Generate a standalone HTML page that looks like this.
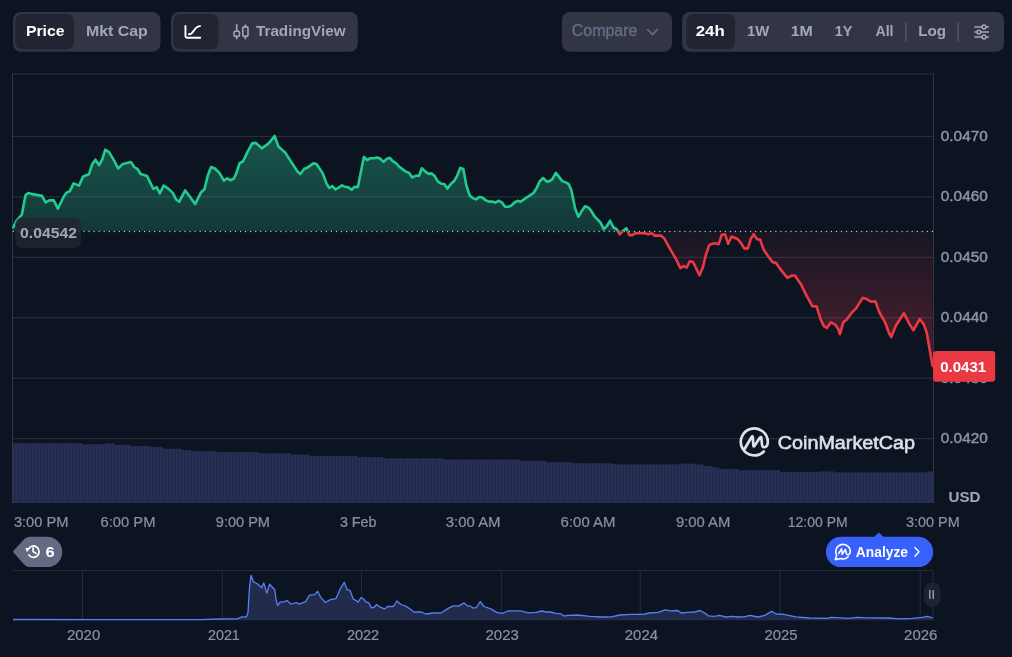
<!DOCTYPE html>
<html><head><meta charset="utf-8"><title>Chart</title>
<style>
html,body{margin:0;padding:0;}
body{width:1012px;height:657px;background:#0d1421;overflow:hidden;position:relative;font-family:"Liberation Sans",sans-serif;}
svg{position:absolute;left:0;top:0;font-family:"Liberation Sans",sans-serif;}
text{white-space:pre;}
</style></head><body>
<svg width="1012" height="657" viewBox="0 0 1012 657">
  <defs>
    <linearGradient id="gg" x1="0" y1="136" x2="0" y2="231" gradientUnits="userSpaceOnUse">
      <stop offset="0" stop-color="#2ed3a0" stop-opacity="0.34"/>
      <stop offset="1" stop-color="#2ed3a0" stop-opacity="0.19"/>
    </linearGradient>
    <linearGradient id="rg" x1="0" y1="231" x2="0" y2="367" gradientUnits="userSpaceOnUse">
      <stop offset="0" stop-color="#ea3a4e" stop-opacity="0.045"/>
      <stop offset="1" stop-color="#ea3a4e" stop-opacity="0.31"/>
    </linearGradient>
    <clipPath id="above"><rect x="0" y="0" width="1012" height="231.3"/></clipPath>
    <clipPath id="below"><rect x="0" y="231.3" width="1012" height="400"/></clipPath>
    <clipPath id="plot"><rect x="12" y="74" width="921.5" height="430"/></clipPath>
  </defs>

  <!-- toolbar groups -->
  <rect x="13" y="12" width="147.5" height="39.8" rx="8" fill="#323546"/>
  <rect x="15.3" y="14" width="58.7" height="35.2" rx="6.5" fill="#222531"/>
  <rect x="171" y="12" width="186.8" height="39.8" rx="8" fill="#323546"/>
  <rect x="173.3" y="14" width="45.1" height="35.2" rx="6.5" fill="#222531"/>
  <rect x="562" y="12" width="110" height="39.8" rx="8" fill="#323546"/>
  <rect x="682.1" y="12" width="321.9" height="39.8" rx="8" fill="#323546"/>
  <rect x="686.3" y="14" width="48.8" height="35" rx="6.5" fill="#222531"/>

  <!-- toolbar icons -->
  <g fill="none" stroke="#ffffff" stroke-width="1.9" stroke-linecap="round" stroke-linejoin="round">
    <path d="M185.45,26V36.2Q185.45,37.7 186.95,37.7H200.2"/>
    <path d="M188.9,34.2C194.6,34.2 193.4,26.1 200.1,26.1"/>
  </g>
  <g fill="none" stroke="#a1a7bb" stroke-width="1.6" stroke-linecap="round" stroke-linejoin="round">
    <rect x="234" y="31.2" width="5.5" height="5.2" rx="1.4"/>
    <path d="M236.75,24.8V31.2M236.75,36.4V38.8"/>
    <rect x="242.8" y="26.9" width="5.2" height="9.5" rx="1.4"/>
    <path d="M245.4,25V26.9M245.4,36.4V38.8"/>
  </g>
  <path d="M647.7,29.6l4.8,5l4.8,-5" fill="none" stroke="#616b86" stroke-width="1.6" stroke-linecap="round" stroke-linejoin="round"/>
  <path d="M906,22.5v19M958,22.5v19" stroke="#5a6076" stroke-width="1.2"/>
  <g fill="none" stroke="#a1a7bb" stroke-width="1.5" stroke-linecap="round">
    <path d="M974.8,27h7M986.2,27h2.2M974.8,32.1h1.8M981,32.1h7.4M974.8,37h7M986.2,37h2.2"/>
    <circle cx="984" cy="27" r="1.9"/><circle cx="978.8" cy="32.1" r="1.9"/><circle cx="984" cy="37" r="1.9"/>
  </g>

  <!-- grid -->
  <path d="M12,74H934" stroke="#2a3040" stroke-width="1"/>
  <path d="M12,136.40H934M12,196.85H934M12,257.30H934M12,317.75H934M12,378.20H934M12,438.65H934" stroke="#2c3244" stroke-width="1"/>

  <!-- y labels -->
  <g><text x="940.80" y="141.00" font-size="14" font-weight="normal" fill="#8a92a8" textLength="47.00" lengthAdjust="spacingAndGlyphs" stroke="#8a92a8" stroke-width="0.45">0.0470</text><text x="940.80" y="201.45" font-size="14" font-weight="normal" fill="#8a92a8" textLength="47.00" lengthAdjust="spacingAndGlyphs" stroke="#8a92a8" stroke-width="0.45">0.0460</text><text x="940.80" y="261.90" font-size="14" font-weight="normal" fill="#8a92a8" textLength="47.00" lengthAdjust="spacingAndGlyphs" stroke="#8a92a8" stroke-width="0.45">0.0450</text><text x="940.80" y="322.35" font-size="14" font-weight="normal" fill="#8a92a8" textLength="47.00" lengthAdjust="spacingAndGlyphs" stroke="#8a92a8" stroke-width="0.45">0.0440</text><text x="940.80" y="382.80" font-size="14" font-weight="normal" fill="#8a92a8" textLength="47.00" lengthAdjust="spacingAndGlyphs" stroke="#8a92a8" stroke-width="0.45">0.0430</text><text x="940.80" y="443.25" font-size="14" font-weight="normal" fill="#8a92a8" textLength="47.00" lengthAdjust="spacingAndGlyphs" stroke="#8a92a8" stroke-width="0.45">0.0420</text></g>

  <!-- volume -->
  <path d="M12.2,502.8 L12.2,443.2 L15.4,443.2 L15.4,443.2 L18.6,443.2 L18.6,443.2 L21.8,443.2 L21.8,443.2 L25.0,443.2 L25.0,443.2 L28.2,443.2 L28.2,443.2 L31.4,443.2 L31.4,443.2 L34.6,443.2 L34.6,443.2 L37.8,443.2 L37.8,443.2 L41.0,443.2 L41.0,443.2 L44.2,443.2 L44.2,443.2 L47.4,443.2 L47.4,443.2 L50.6,443.2 L50.6,443.2 L53.8,443.2 L53.8,443.2 L57.0,443.2 L57.0,443.2 L60.2,443.2 L60.2,443.2 L63.4,443.2 L63.4,443.2 L66.6,443.2 L66.6,443.2 L69.8,443.2 L69.8,443.2 L73.0,443.2 L73.0,443.2 L76.2,443.2 L76.2,443.2 L79.4,443.2 L79.4,443.2 L82.6,443.2 L82.6,444.4 L85.8,444.4 L85.8,444.4 L89.0,444.4 L89.0,444.4 L92.2,444.4 L92.2,444.4 L95.4,444.4 L95.4,444.4 L98.6,444.4 L98.6,444.4 L101.8,444.4 L101.8,444.4 L105.0,444.4 L105.0,443.6 L108.2,443.6 L108.2,443.6 L111.4,443.6 L111.4,443.6 L114.6,443.6 L114.6,444.9 L117.8,444.9 L117.8,444.9 L121.0,444.9 L121.0,444.9 L124.2,444.9 L124.2,444.9 L127.4,444.9 L127.4,444.9 L130.6,444.9 L130.6,446.1 L133.8,446.1 L133.8,446.1 L137.0,446.1 L137.0,446.1 L140.2,446.1 L140.2,446.1 L143.4,446.1 L143.4,446.1 L146.6,446.1 L146.6,446.1 L149.8,446.1 L149.8,446.9 L153.0,446.9 L153.0,446.9 L156.2,446.9 L156.2,446.9 L159.4,446.9 L159.4,446.9 L162.6,446.9 L162.6,448.8 L165.8,448.8 L165.8,448.8 L169.0,448.8 L169.0,448.8 L172.2,448.8 L172.2,448.8 L175.4,448.8 L175.4,448.8 L178.6,448.8 L178.6,448.8 L181.8,448.8 L181.8,450.1 L185.0,450.1 L185.0,450.1 L188.2,450.1 L188.2,450.1 L191.4,450.1 L191.4,451.3 L194.6,451.3 L194.6,451.3 L197.8,451.3 L197.8,451.3 L201.0,451.3 L201.0,451.3 L204.2,451.3 L204.2,451.3 L207.4,451.3 L207.4,451.3 L210.6,451.3 L210.6,451.3 L213.8,451.3 L213.8,451.3 L217.0,451.3 L217.0,452.3 L220.2,452.3 L220.2,452.3 L223.4,452.3 L223.4,452.3 L226.6,452.3 L226.6,452.3 L229.8,452.3 L229.8,452.3 L233.0,452.3 L233.0,452.3 L236.2,452.3 L236.2,452.3 L239.4,452.3 L239.4,452.3 L242.6,452.3 L242.6,452.3 L245.8,452.3 L245.8,452.3 L249.0,452.3 L249.0,452.3 L252.2,452.3 L252.2,452.3 L255.4,452.3 L255.4,452.3 L258.6,452.3 L258.6,453.5 L261.8,453.5 L261.8,453.5 L265.0,453.5 L265.0,453.5 L268.2,453.5 L268.2,453.5 L271.4,453.5 L271.4,453.5 L274.6,453.5 L274.6,453.5 L277.8,453.5 L277.8,453.5 L281.0,453.5 L281.0,453.5 L284.2,453.5 L284.2,453.5 L287.4,453.5 L287.4,453.5 L290.6,453.5 L290.6,454.8 L293.8,454.8 L293.8,454.8 L297.0,454.8 L297.0,454.8 L300.2,454.8 L300.2,454.8 L303.4,454.8 L303.4,454.8 L306.6,454.8 L306.6,454.8 L309.8,454.8 L309.8,456.0 L313.0,456.0 L313.0,456.0 L316.2,456.0 L316.2,456.0 L319.4,456.0 L319.4,456.0 L322.6,456.0 L322.6,456.0 L325.8,456.0 L325.8,456.0 L329.0,456.0 L329.0,456.0 L332.2,456.0 L332.2,456.0 L335.4,456.0 L335.4,456.0 L338.6,456.0 L338.6,456.0 L341.8,456.0 L341.8,456.0 L345.0,456.0 L345.0,456.0 L348.2,456.0 L348.2,456.0 L351.4,456.0 L351.4,456.0 L354.6,456.0 L354.6,456.0 L357.8,456.0 L357.8,457.2 L361.0,457.2 L361.0,457.2 L364.2,457.2 L364.2,457.2 L367.4,457.2 L367.4,457.2 L370.6,457.2 L370.6,457.2 L373.8,457.2 L373.8,457.2 L377.0,457.2 L377.0,457.2 L380.2,457.2 L380.2,457.2 L383.4,457.2 L383.4,458.5 L386.6,458.5 L386.6,458.5 L389.8,458.5 L389.8,458.5 L393.0,458.5 L393.0,458.5 L396.2,458.5 L396.2,458.5 L399.4,458.5 L399.4,458.5 L402.6,458.5 L402.6,458.5 L405.8,458.5 L405.8,458.5 L409.0,458.5 L409.0,458.5 L412.2,458.5 L412.2,458.5 L415.4,458.5 L415.4,458.5 L418.6,458.5 L418.6,458.5 L421.8,458.5 L421.8,458.5 L425.0,458.5 L425.0,458.5 L428.2,458.5 L428.2,458.5 L431.4,458.5 L431.4,458.5 L434.6,458.5 L434.6,458.5 L437.8,458.5 L437.8,458.5 L441.0,458.5 L441.0,458.5 L444.2,458.5 L444.2,459.7 L447.4,459.7 L447.4,459.7 L450.6,459.7 L450.6,459.7 L453.8,459.7 L453.8,459.7 L457.0,459.7 L457.0,459.7 L460.2,459.7 L460.2,459.7 L463.4,459.7 L463.4,459.7 L466.6,459.7 L466.6,459.7 L469.8,459.7 L469.8,459.7 L473.0,459.7 L473.0,459.7 L476.2,459.7 L476.2,459.7 L479.4,459.7 L479.4,459.7 L482.6,459.7 L482.6,459.7 L485.8,459.7 L485.8,459.7 L489.0,459.7 L489.0,459.7 L492.2,459.7 L492.2,459.7 L495.4,459.7 L495.4,459.7 L498.6,459.7 L498.6,459.7 L501.8,459.7 L501.8,459.7 L505.0,459.7 L505.0,459.7 L508.2,459.7 L508.2,459.7 L511.4,459.7 L511.4,459.7 L514.6,459.7 L514.6,459.7 L517.8,459.7 L517.8,459.7 L521.0,459.7 L521.0,460.9 L524.2,460.9 L524.2,460.9 L527.4,460.9 L527.4,460.9 L530.6,460.9 L530.6,460.9 L533.8,460.9 L533.8,460.9 L537.0,460.9 L537.0,460.9 L540.2,460.9 L540.2,460.9 L543.4,460.9 L543.4,460.9 L546.6,460.9 L546.6,462.2 L549.8,462.2 L549.8,462.2 L553.0,462.2 L553.0,462.2 L556.2,462.2 L556.2,462.2 L559.4,462.2 L559.4,462.2 L562.6,462.2 L562.6,462.2 L565.8,462.2 L565.8,462.2 L569.0,462.2 L569.0,462.2 L572.2,462.2 L572.2,463.4 L575.4,463.4 L575.4,463.4 L578.6,463.4 L578.6,463.4 L581.8,463.4 L581.8,463.4 L585.0,463.4 L585.0,463.4 L588.2,463.4 L588.2,463.4 L591.4,463.4 L591.4,463.4 L594.6,463.4 L594.6,463.4 L597.8,463.4 L597.8,463.4 L601.0,463.4 L601.0,463.4 L604.2,463.4 L604.2,463.4 L607.4,463.4 L607.4,463.4 L610.6,463.4 L610.6,463.4 L613.8,463.4 L613.8,464.6 L617.0,464.6 L617.0,464.6 L620.2,464.6 L620.2,464.6 L623.4,464.6 L623.4,464.6 L626.6,464.6 L626.6,464.6 L629.8,464.6 L629.8,464.6 L633.0,464.6 L633.0,464.6 L636.2,464.6 L636.2,464.6 L639.4,464.6 L639.4,464.6 L642.6,464.6 L642.6,464.6 L645.8,464.6 L645.8,464.6 L649.0,464.6 L649.0,464.6 L652.2,464.6 L652.2,464.6 L655.4,464.6 L655.4,464.6 L658.6,464.6 L658.6,464.6 L661.8,464.6 L661.8,464.6 L665.0,464.6 L665.0,464.6 L668.2,464.6 L668.2,464.6 L671.4,464.6 L671.4,464.6 L674.6,464.6 L674.6,464.6 L677.8,464.6 L677.8,463.7 L681.0,463.7 L681.0,463.7 L684.2,463.7 L684.2,463.7 L687.4,463.7 L687.4,463.7 L690.6,463.7 L690.6,463.7 L693.8,463.7 L693.8,464.6 L697.0,464.6 L697.0,464.6 L700.2,464.6 L700.2,464.6 L703.4,464.6 L703.4,466.1 L706.6,466.1 L706.6,466.1 L709.8,466.1 L709.8,466.1 L713.0,466.1 L713.0,467.6 L716.2,467.6 L716.2,467.6 L719.4,467.6 L719.4,469.1 L722.6,469.1 L722.6,469.1 L725.8,469.1 L725.8,469.1 L729.0,469.1 L729.0,469.1 L732.2,469.1 L732.2,469.1 L735.4,469.1 L735.4,469.1 L738.6,469.1 L738.6,470.3 L741.8,470.3 L741.8,470.3 L745.0,470.3 L745.0,470.3 L748.2,470.3 L748.2,470.3 L751.4,470.3 L751.4,470.3 L754.6,470.3 L754.6,470.3 L757.8,470.3 L757.8,470.3 L761.0,470.3 L761.0,470.3 L764.2,470.3 L764.2,470.3 L767.4,470.3 L767.4,470.3 L770.6,470.3 L770.6,470.3 L773.8,470.3 L773.8,470.3 L777.0,470.3 L777.0,470.3 L780.2,470.3 L780.2,472.1 L783.4,472.1 L783.4,472.1 L786.6,472.1 L786.6,472.1 L789.8,472.1 L789.8,472.1 L793.0,472.1 L793.0,472.1 L796.2,472.1 L796.2,472.1 L799.4,472.1 L799.4,472.1 L802.6,472.1 L802.6,472.1 L805.8,472.1 L805.8,472.1 L809.0,472.1 L809.0,472.1 L812.2,472.1 L812.2,472.1 L815.4,472.1 L815.4,472.1 L818.6,472.1 L818.6,471.6 L821.8,471.6 L821.8,471.6 L825.0,471.6 L825.0,471.6 L828.2,471.6 L828.2,471.6 L831.4,471.6 L831.4,471.6 L834.6,471.6 L834.6,472.5 L837.8,472.5 L837.8,472.5 L841.0,472.5 L841.0,472.5 L844.2,472.5 L844.2,472.5 L847.4,472.5 L847.4,472.5 L850.6,472.5 L850.6,472.5 L853.8,472.5 L853.8,472.5 L857.0,472.5 L857.0,472.5 L860.2,472.5 L860.2,472.5 L863.4,472.5 L863.4,472.5 L866.6,472.5 L866.6,472.5 L869.8,472.5 L869.8,472.5 L873.0,472.5 L873.0,472.5 L876.2,472.5 L876.2,472.5 L879.4,472.5 L879.4,472.5 L882.6,472.5 L882.6,472.5 L885.8,472.5 L885.8,472.5 L889.0,472.5 L889.0,472.5 L892.2,472.5 L892.2,472.5 L895.4,472.5 L895.4,472.5 L898.6,472.5 L898.6,472.5 L901.8,472.5 L901.8,472.5 L905.0,472.5 L905.0,472.5 L908.2,472.5 L908.2,472.5 L911.4,472.5 L911.4,472.5 L914.6,472.5 L914.6,472.5 L917.8,472.5 L917.8,472.5 L921.0,472.5 L921.0,472.5 L924.2,472.5 L924.2,472.5 L927.4,472.5 L927.4,471.6 L930.6,471.6 L930.6,471.6 L933.8,471.6 L933.8,502.8Z" fill="#1f2746"/>
  <g fill="#272f54"><rect x="12.20" y="443.2" width="2.60" height="59.6"/><rect x="15.40" y="443.2" width="2.60" height="59.6"/><rect x="18.60" y="443.2" width="2.60" height="59.6"/><rect x="21.80" y="443.2" width="2.60" height="59.6"/><rect x="25.00" y="443.2" width="2.60" height="59.6"/><rect x="28.20" y="443.2" width="2.60" height="59.6"/><rect x="31.40" y="443.2" width="2.60" height="59.6"/><rect x="34.60" y="443.2" width="2.60" height="59.6"/><rect x="37.80" y="443.2" width="2.60" height="59.6"/><rect x="41.00" y="443.2" width="2.60" height="59.6"/><rect x="44.20" y="443.2" width="2.60" height="59.6"/><rect x="47.40" y="443.2" width="2.60" height="59.6"/><rect x="50.60" y="443.2" width="2.60" height="59.6"/><rect x="53.80" y="443.2" width="2.60" height="59.6"/><rect x="57.00" y="443.2" width="2.60" height="59.6"/><rect x="60.20" y="443.2" width="2.60" height="59.6"/><rect x="63.40" y="443.2" width="2.60" height="59.6"/><rect x="66.60" y="443.2" width="2.60" height="59.6"/><rect x="69.80" y="443.2" width="2.60" height="59.6"/><rect x="73.00" y="443.2" width="2.60" height="59.6"/><rect x="76.20" y="443.2" width="2.60" height="59.6"/><rect x="79.40" y="443.2" width="2.60" height="59.6"/><rect x="82.60" y="444.4" width="2.60" height="58.4"/><rect x="85.80" y="444.4" width="2.60" height="58.4"/><rect x="89.00" y="444.4" width="2.60" height="58.4"/><rect x="92.20" y="444.4" width="2.60" height="58.4"/><rect x="95.40" y="444.4" width="2.60" height="58.4"/><rect x="98.60" y="444.4" width="2.60" height="58.4"/><rect x="101.80" y="444.4" width="2.60" height="58.4"/><rect x="105.00" y="443.6" width="2.60" height="59.2"/><rect x="108.20" y="443.6" width="2.60" height="59.2"/><rect x="111.40" y="443.6" width="2.60" height="59.2"/><rect x="114.60" y="444.9" width="2.60" height="57.9"/><rect x="117.80" y="444.9" width="2.60" height="57.9"/><rect x="121.00" y="444.9" width="2.60" height="57.9"/><rect x="124.20" y="444.9" width="2.60" height="57.9"/><rect x="127.40" y="444.9" width="2.60" height="57.9"/><rect x="130.60" y="446.1" width="2.60" height="56.7"/><rect x="133.80" y="446.1" width="2.60" height="56.7"/><rect x="137.00" y="446.1" width="2.60" height="56.7"/><rect x="140.20" y="446.1" width="2.60" height="56.7"/><rect x="143.40" y="446.1" width="2.60" height="56.7"/><rect x="146.60" y="446.1" width="2.60" height="56.7"/><rect x="149.80" y="446.9" width="2.60" height="55.9"/><rect x="153.00" y="446.9" width="2.60" height="55.9"/><rect x="156.20" y="446.9" width="2.60" height="55.9"/><rect x="159.40" y="446.9" width="2.60" height="55.9"/><rect x="162.60" y="448.8" width="2.60" height="54.0"/><rect x="165.80" y="448.8" width="2.60" height="54.0"/><rect x="169.00" y="448.8" width="2.60" height="54.0"/><rect x="172.20" y="448.8" width="2.60" height="54.0"/><rect x="175.40" y="448.8" width="2.60" height="54.0"/><rect x="178.60" y="448.8" width="2.60" height="54.0"/><rect x="181.80" y="450.1" width="2.60" height="52.7"/><rect x="185.00" y="450.1" width="2.60" height="52.7"/><rect x="188.20" y="450.1" width="2.60" height="52.7"/><rect x="191.40" y="451.3" width="2.60" height="51.5"/><rect x="194.60" y="451.3" width="2.60" height="51.5"/><rect x="197.80" y="451.3" width="2.60" height="51.5"/><rect x="201.00" y="451.3" width="2.60" height="51.5"/><rect x="204.20" y="451.3" width="2.60" height="51.5"/><rect x="207.40" y="451.3" width="2.60" height="51.5"/><rect x="210.60" y="451.3" width="2.60" height="51.5"/><rect x="213.80" y="451.3" width="2.60" height="51.5"/><rect x="217.00" y="452.3" width="2.60" height="50.5"/><rect x="220.20" y="452.3" width="2.60" height="50.5"/><rect x="223.40" y="452.3" width="2.60" height="50.5"/><rect x="226.60" y="452.3" width="2.60" height="50.5"/><rect x="229.80" y="452.3" width="2.60" height="50.5"/><rect x="233.00" y="452.3" width="2.60" height="50.5"/><rect x="236.20" y="452.3" width="2.60" height="50.5"/><rect x="239.40" y="452.3" width="2.60" height="50.5"/><rect x="242.60" y="452.3" width="2.60" height="50.5"/><rect x="245.80" y="452.3" width="2.60" height="50.5"/><rect x="249.00" y="452.3" width="2.60" height="50.5"/><rect x="252.20" y="452.3" width="2.60" height="50.5"/><rect x="255.40" y="452.3" width="2.60" height="50.5"/><rect x="258.60" y="453.5" width="2.60" height="49.3"/><rect x="261.80" y="453.5" width="2.60" height="49.3"/><rect x="265.00" y="453.5" width="2.60" height="49.3"/><rect x="268.20" y="453.5" width="2.60" height="49.3"/><rect x="271.40" y="453.5" width="2.60" height="49.3"/><rect x="274.60" y="453.5" width="2.60" height="49.3"/><rect x="277.80" y="453.5" width="2.60" height="49.3"/><rect x="281.00" y="453.5" width="2.60" height="49.3"/><rect x="284.20" y="453.5" width="2.60" height="49.3"/><rect x="287.40" y="453.5" width="2.60" height="49.3"/><rect x="290.60" y="454.8" width="2.60" height="48.0"/><rect x="293.80" y="454.8" width="2.60" height="48.0"/><rect x="297.00" y="454.8" width="2.60" height="48.0"/><rect x="300.20" y="454.8" width="2.60" height="48.0"/><rect x="303.40" y="454.8" width="2.60" height="48.0"/><rect x="306.60" y="454.8" width="2.60" height="48.0"/><rect x="309.80" y="456.0" width="2.60" height="46.8"/><rect x="313.00" y="456.0" width="2.60" height="46.8"/><rect x="316.20" y="456.0" width="2.60" height="46.8"/><rect x="319.40" y="456.0" width="2.60" height="46.8"/><rect x="322.60" y="456.0" width="2.60" height="46.8"/><rect x="325.80" y="456.0" width="2.60" height="46.8"/><rect x="329.00" y="456.0" width="2.60" height="46.8"/><rect x="332.20" y="456.0" width="2.60" height="46.8"/><rect x="335.40" y="456.0" width="2.60" height="46.8"/><rect x="338.60" y="456.0" width="2.60" height="46.8"/><rect x="341.80" y="456.0" width="2.60" height="46.8"/><rect x="345.00" y="456.0" width="2.60" height="46.8"/><rect x="348.20" y="456.0" width="2.60" height="46.8"/><rect x="351.40" y="456.0" width="2.60" height="46.8"/><rect x="354.60" y="456.0" width="2.60" height="46.8"/><rect x="357.80" y="457.2" width="2.60" height="45.6"/><rect x="361.00" y="457.2" width="2.60" height="45.6"/><rect x="364.20" y="457.2" width="2.60" height="45.6"/><rect x="367.40" y="457.2" width="2.60" height="45.6"/><rect x="370.60" y="457.2" width="2.60" height="45.6"/><rect x="373.80" y="457.2" width="2.60" height="45.6"/><rect x="377.00" y="457.2" width="2.60" height="45.6"/><rect x="380.20" y="457.2" width="2.60" height="45.6"/><rect x="383.40" y="458.5" width="2.60" height="44.3"/><rect x="386.60" y="458.5" width="2.60" height="44.3"/><rect x="389.80" y="458.5" width="2.60" height="44.3"/><rect x="393.00" y="458.5" width="2.60" height="44.3"/><rect x="396.20" y="458.5" width="2.60" height="44.3"/><rect x="399.40" y="458.5" width="2.60" height="44.3"/><rect x="402.60" y="458.5" width="2.60" height="44.3"/><rect x="405.80" y="458.5" width="2.60" height="44.3"/><rect x="409.00" y="458.5" width="2.60" height="44.3"/><rect x="412.20" y="458.5" width="2.60" height="44.3"/><rect x="415.40" y="458.5" width="2.60" height="44.3"/><rect x="418.60" y="458.5" width="2.60" height="44.3"/><rect x="421.80" y="458.5" width="2.60" height="44.3"/><rect x="425.00" y="458.5" width="2.60" height="44.3"/><rect x="428.20" y="458.5" width="2.60" height="44.3"/><rect x="431.40" y="458.5" width="2.60" height="44.3"/><rect x="434.60" y="458.5" width="2.60" height="44.3"/><rect x="437.80" y="458.5" width="2.60" height="44.3"/><rect x="441.00" y="458.5" width="2.60" height="44.3"/><rect x="444.20" y="459.7" width="2.60" height="43.1"/><rect x="447.40" y="459.7" width="2.60" height="43.1"/><rect x="450.60" y="459.7" width="2.60" height="43.1"/><rect x="453.80" y="459.7" width="2.60" height="43.1"/><rect x="457.00" y="459.7" width="2.60" height="43.1"/><rect x="460.20" y="459.7" width="2.60" height="43.1"/><rect x="463.40" y="459.7" width="2.60" height="43.1"/><rect x="466.60" y="459.7" width="2.60" height="43.1"/><rect x="469.80" y="459.7" width="2.60" height="43.1"/><rect x="473.00" y="459.7" width="2.60" height="43.1"/><rect x="476.20" y="459.7" width="2.60" height="43.1"/><rect x="479.40" y="459.7" width="2.60" height="43.1"/><rect x="482.60" y="459.7" width="2.60" height="43.1"/><rect x="485.80" y="459.7" width="2.60" height="43.1"/><rect x="489.00" y="459.7" width="2.60" height="43.1"/><rect x="492.20" y="459.7" width="2.60" height="43.1"/><rect x="495.40" y="459.7" width="2.60" height="43.1"/><rect x="498.60" y="459.7" width="2.60" height="43.1"/><rect x="501.80" y="459.7" width="2.60" height="43.1"/><rect x="505.00" y="459.7" width="2.60" height="43.1"/><rect x="508.20" y="459.7" width="2.60" height="43.1"/><rect x="511.40" y="459.7" width="2.60" height="43.1"/><rect x="514.60" y="459.7" width="2.60" height="43.1"/><rect x="517.80" y="459.7" width="2.60" height="43.1"/><rect x="521.00" y="460.9" width="2.60" height="41.9"/><rect x="524.20" y="460.9" width="2.60" height="41.9"/><rect x="527.40" y="460.9" width="2.60" height="41.9"/><rect x="530.60" y="460.9" width="2.60" height="41.9"/><rect x="533.80" y="460.9" width="2.60" height="41.9"/><rect x="537.00" y="460.9" width="2.60" height="41.9"/><rect x="540.20" y="460.9" width="2.60" height="41.9"/><rect x="543.40" y="460.9" width="2.60" height="41.9"/><rect x="546.60" y="462.2" width="2.60" height="40.6"/><rect x="549.80" y="462.2" width="2.60" height="40.6"/><rect x="553.00" y="462.2" width="2.60" height="40.6"/><rect x="556.20" y="462.2" width="2.60" height="40.6"/><rect x="559.40" y="462.2" width="2.60" height="40.6"/><rect x="562.60" y="462.2" width="2.60" height="40.6"/><rect x="565.80" y="462.2" width="2.60" height="40.6"/><rect x="569.00" y="462.2" width="2.60" height="40.6"/><rect x="572.20" y="463.4" width="2.60" height="39.4"/><rect x="575.40" y="463.4" width="2.60" height="39.4"/><rect x="578.60" y="463.4" width="2.60" height="39.4"/><rect x="581.80" y="463.4" width="2.60" height="39.4"/><rect x="585.00" y="463.4" width="2.60" height="39.4"/><rect x="588.20" y="463.4" width="2.60" height="39.4"/><rect x="591.40" y="463.4" width="2.60" height="39.4"/><rect x="594.60" y="463.4" width="2.60" height="39.4"/><rect x="597.80" y="463.4" width="2.60" height="39.4"/><rect x="601.00" y="463.4" width="2.60" height="39.4"/><rect x="604.20" y="463.4" width="2.60" height="39.4"/><rect x="607.40" y="463.4" width="2.60" height="39.4"/><rect x="610.60" y="463.4" width="2.60" height="39.4"/><rect x="613.80" y="464.6" width="2.60" height="38.2"/><rect x="617.00" y="464.6" width="2.60" height="38.2"/><rect x="620.20" y="464.6" width="2.60" height="38.2"/><rect x="623.40" y="464.6" width="2.60" height="38.2"/><rect x="626.60" y="464.6" width="2.60" height="38.2"/><rect x="629.80" y="464.6" width="2.60" height="38.2"/><rect x="633.00" y="464.6" width="2.60" height="38.2"/><rect x="636.20" y="464.6" width="2.60" height="38.2"/><rect x="639.40" y="464.6" width="2.60" height="38.2"/><rect x="642.60" y="464.6" width="2.60" height="38.2"/><rect x="645.80" y="464.6" width="2.60" height="38.2"/><rect x="649.00" y="464.6" width="2.60" height="38.2"/><rect x="652.20" y="464.6" width="2.60" height="38.2"/><rect x="655.40" y="464.6" width="2.60" height="38.2"/><rect x="658.60" y="464.6" width="2.60" height="38.2"/><rect x="661.80" y="464.6" width="2.60" height="38.2"/><rect x="665.00" y="464.6" width="2.60" height="38.2"/><rect x="668.20" y="464.6" width="2.60" height="38.2"/><rect x="671.40" y="464.6" width="2.60" height="38.2"/><rect x="674.60" y="464.6" width="2.60" height="38.2"/><rect x="677.80" y="463.7" width="2.60" height="39.1"/><rect x="681.00" y="463.7" width="2.60" height="39.1"/><rect x="684.20" y="463.7" width="2.60" height="39.1"/><rect x="687.40" y="463.7" width="2.60" height="39.1"/><rect x="690.60" y="463.7" width="2.60" height="39.1"/><rect x="693.80" y="464.6" width="2.60" height="38.2"/><rect x="697.00" y="464.6" width="2.60" height="38.2"/><rect x="700.20" y="464.6" width="2.60" height="38.2"/><rect x="703.40" y="466.1" width="2.60" height="36.7"/><rect x="706.60" y="466.1" width="2.60" height="36.7"/><rect x="709.80" y="466.1" width="2.60" height="36.7"/><rect x="713.00" y="467.6" width="2.60" height="35.2"/><rect x="716.20" y="467.6" width="2.60" height="35.2"/><rect x="719.40" y="469.1" width="2.60" height="33.7"/><rect x="722.60" y="469.1" width="2.60" height="33.7"/><rect x="725.80" y="469.1" width="2.60" height="33.7"/><rect x="729.00" y="469.1" width="2.60" height="33.7"/><rect x="732.20" y="469.1" width="2.60" height="33.7"/><rect x="735.40" y="469.1" width="2.60" height="33.7"/><rect x="738.60" y="470.3" width="2.60" height="32.5"/><rect x="741.80" y="470.3" width="2.60" height="32.5"/><rect x="745.00" y="470.3" width="2.60" height="32.5"/><rect x="748.20" y="470.3" width="2.60" height="32.5"/><rect x="751.40" y="470.3" width="2.60" height="32.5"/><rect x="754.60" y="470.3" width="2.60" height="32.5"/><rect x="757.80" y="470.3" width="2.60" height="32.5"/><rect x="761.00" y="470.3" width="2.60" height="32.5"/><rect x="764.20" y="470.3" width="2.60" height="32.5"/><rect x="767.40" y="470.3" width="2.60" height="32.5"/><rect x="770.60" y="470.3" width="2.60" height="32.5"/><rect x="773.80" y="470.3" width="2.60" height="32.5"/><rect x="777.00" y="470.3" width="2.60" height="32.5"/><rect x="780.20" y="472.1" width="2.60" height="30.7"/><rect x="783.40" y="472.1" width="2.60" height="30.7"/><rect x="786.60" y="472.1" width="2.60" height="30.7"/><rect x="789.80" y="472.1" width="2.60" height="30.7"/><rect x="793.00" y="472.1" width="2.60" height="30.7"/><rect x="796.20" y="472.1" width="2.60" height="30.7"/><rect x="799.40" y="472.1" width="2.60" height="30.7"/><rect x="802.60" y="472.1" width="2.60" height="30.7"/><rect x="805.80" y="472.1" width="2.60" height="30.7"/><rect x="809.00" y="472.1" width="2.60" height="30.7"/><rect x="812.20" y="472.1" width="2.60" height="30.7"/><rect x="815.40" y="472.1" width="2.60" height="30.7"/><rect x="818.60" y="471.6" width="2.60" height="31.2"/><rect x="821.80" y="471.6" width="2.60" height="31.2"/><rect x="825.00" y="471.6" width="2.60" height="31.2"/><rect x="828.20" y="471.6" width="2.60" height="31.2"/><rect x="831.40" y="471.6" width="2.60" height="31.2"/><rect x="834.60" y="472.5" width="2.60" height="30.3"/><rect x="837.80" y="472.5" width="2.60" height="30.3"/><rect x="841.00" y="472.5" width="2.60" height="30.3"/><rect x="844.20" y="472.5" width="2.60" height="30.3"/><rect x="847.40" y="472.5" width="2.60" height="30.3"/><rect x="850.60" y="472.5" width="2.60" height="30.3"/><rect x="853.80" y="472.5" width="2.60" height="30.3"/><rect x="857.00" y="472.5" width="2.60" height="30.3"/><rect x="860.20" y="472.5" width="2.60" height="30.3"/><rect x="863.40" y="472.5" width="2.60" height="30.3"/><rect x="866.60" y="472.5" width="2.60" height="30.3"/><rect x="869.80" y="472.5" width="2.60" height="30.3"/><rect x="873.00" y="472.5" width="2.60" height="30.3"/><rect x="876.20" y="472.5" width="2.60" height="30.3"/><rect x="879.40" y="472.5" width="2.60" height="30.3"/><rect x="882.60" y="472.5" width="2.60" height="30.3"/><rect x="885.80" y="472.5" width="2.60" height="30.3"/><rect x="889.00" y="472.5" width="2.60" height="30.3"/><rect x="892.20" y="472.5" width="2.60" height="30.3"/><rect x="895.40" y="472.5" width="2.60" height="30.3"/><rect x="898.60" y="472.5" width="2.60" height="30.3"/><rect x="901.80" y="472.5" width="2.60" height="30.3"/><rect x="905.00" y="472.5" width="2.60" height="30.3"/><rect x="908.20" y="472.5" width="2.60" height="30.3"/><rect x="911.40" y="472.5" width="2.60" height="30.3"/><rect x="914.60" y="472.5" width="2.60" height="30.3"/><rect x="917.80" y="472.5" width="2.60" height="30.3"/><rect x="921.00" y="472.5" width="2.60" height="30.3"/><rect x="924.20" y="472.5" width="2.60" height="30.3"/><rect x="927.40" y="471.6" width="2.60" height="31.2"/><rect x="930.60" y="471.6" width="2.60" height="31.2"/></g>
  <path d="M12,502.3H934" stroke="#2b3258" stroke-width="1"/>

  <path d="M12.5,74V503M933.5,74V503" stroke="#2f3547" stroke-width="1"/>
  <!-- areas -->
  <g clip-path="url(#above)">
    <path d="M13.3,227.3 L16.4,220.9 L21.9,214.5 L25.5,195.3 L28.3,193.1 L33.7,194.4 L42.0,195.9 L45.6,202.3 L49.3,200.4 L53.8,200.4 L57.9,208.7 L63.9,196.2 L66.6,192.6 L69.9,191.1 L73.6,183.4 L79.0,185.6 L83.1,176.5 L88.9,174.3 L92.2,164.3 L95.5,159.7 L99.1,165.2 L102.2,159.7 L105.3,149.7 L109.2,152.4 L114.1,160.6 L118.1,168.5 L122.3,164.3 L126.9,163.0 L131.1,162.1 L134.2,167.0 L137.3,168.8 L140.6,174.0 L147.0,176.1 L153.4,188.9 L156.7,187.1 L159.8,193.5 L163.6,185.5 L168.2,188.6 L172.8,192.9 L176.1,199.5 L179.2,201.7 L185.2,190.4 L190.1,197.1 L195.1,204.1 L201.1,192.2 L204.4,189.3 L207.9,175.2 L211.1,167.0 L214.8,168.5 L219.4,172.9 L223.9,180.7 L227.2,178.3 L230.3,180.2 L233.6,178.9 L236.3,173.4 L239.5,163.4 L243.1,161.2 L247.3,152.4 L252.2,143.3 L255.9,142.9 L261.9,148.4 L268.7,143.3 L274.7,136.0 L278.4,146.6 L285.1,152.4 L291.5,162.4 L297.9,172.1 L300.3,174.0 L304.3,168.8 L307.0,167.9 L313.4,163.4 L316.5,164.0 L322.8,173.4 L326.4,183.4 L329.2,188.0 L332.3,186.2 L335.6,189.5 L342.0,185.3 L344.7,186.7 L348.0,187.1 L351.6,189.8 L354.7,186.7 L357.9,187.1 L361.1,170.7 L363.9,157.0 L367.2,160.1 L370.3,158.2 L373.9,158.2 L377.2,157.5 L380.3,158.8 L383.6,161.9 L386.7,158.8 L389.8,157.9 L393.1,161.5 L395.8,162.8 L399.5,167.0 L405.9,171.6 L409.2,172.9 L412.3,177.4 L415.6,175.8 L419.0,175.8 L421.8,168.3 L425.4,171.6 L428.7,173.9 L431.5,173.4 L434.7,176.1 L437.9,181.6 L441.5,183.8 L444.2,184.0 L447.4,188.6 L451.0,183.8 L453.9,181.3 L457.0,176.1 L460.3,167.9 L463.3,169.0 L466.5,185.9 L469.7,195.5 L472.8,198.1 L476.1,199.4 L479.2,197.0 L482.3,197.5 L485.6,200.3 L488.9,201.6 L492.0,201.6 L495.3,202.6 L498.4,200.8 L501.6,202.1 L505.1,206.7 L508.4,206.7 L511.1,205.8 L514.4,202.5 L517.5,200.8 L520.6,201.7 L523.9,199.4 L530.3,195.2 L533.6,193.0 L536.7,187.9 L539.8,181.1 L543.1,178.0 L546.8,181.6 L549.5,181.1 L552.2,179.3 L555.9,172.9 L559.2,177.1 L562.3,181.1 L565.6,182.4 L568.7,184.2 L571.4,190.2 L575.1,208.5 L578.4,216.7 L581.5,211.6 L585.1,206.3 L587.9,207.2 L591.1,210.7 L594.8,216.7 L600.6,222.6 L603.7,229.1 L607.0,225.8 L610.1,220.7 L613.4,227.5 L616.5,229.0 L619.7,234.3 L622.8,231.0 L626.4,228.3 L629.2,235.1 L632.3,235.1 L635.6,233.2 L639.2,233.2 L644.7,233.2 L648.4,234.2 L651.6,233.2 L654.7,235.6 L661.1,235.6 L664.2,238.4 L670.3,249.3 L676.7,260.3 L680.3,268.1 L683.6,266.1 L686.7,267.6 L689.8,261.2 L693.1,262.1 L699.5,275.3 L702.8,267.6 L705.9,254.8 L709.2,245.1 L712.3,243.8 L715.6,243.3 L718.7,244.2 L721.8,234.7 L725.1,234.3 L728.2,243.8 L731.5,236.5 L734.7,237.8 L737.9,239.3 L741.5,243.8 L744.2,248.4 L747.9,248.4 L750.6,239.3 L753.7,234.2 L757.0,239.3 L760.1,239.5 L763.4,249.2 L768.0,256.1 L772.6,262.3 L776.0,262.9 L781.7,270.9 L787.4,277.8 L792.0,275.5 L794.9,275.5 L801.1,284.6 L806.8,296.1 L812.5,306.3 L816.6,306.3 L820.5,318.9 L823.9,326.2 L826.9,328.0 L830.8,322.3 L835.3,324.6 L838.3,329.2 L839.9,334.2 L843.3,322.3 L846.8,319.6 L851.3,313.2 L855.9,308.6 L862.7,297.9 L866.2,298.8 L871.4,301.8 L875.3,301.3 L879.2,312.0 L885.1,322.3 L889.0,333.0 L891.3,337.1 L895.8,325.7 L903.8,313.2 L909.5,324.1 L913.4,330.3 L919.8,318.9 L923.9,324.6 L926.7,332.6 L930.1,352.0 L932.6,366.0 L933,231.3 L13,231.3 Z" fill="url(#gg)"/>
  </g>
  <g clip-path="url(#below)">
    <path d="M13.3,227.3 L16.4,220.9 L21.9,214.5 L25.5,195.3 L28.3,193.1 L33.7,194.4 L42.0,195.9 L45.6,202.3 L49.3,200.4 L53.8,200.4 L57.9,208.7 L63.9,196.2 L66.6,192.6 L69.9,191.1 L73.6,183.4 L79.0,185.6 L83.1,176.5 L88.9,174.3 L92.2,164.3 L95.5,159.7 L99.1,165.2 L102.2,159.7 L105.3,149.7 L109.2,152.4 L114.1,160.6 L118.1,168.5 L122.3,164.3 L126.9,163.0 L131.1,162.1 L134.2,167.0 L137.3,168.8 L140.6,174.0 L147.0,176.1 L153.4,188.9 L156.7,187.1 L159.8,193.5 L163.6,185.5 L168.2,188.6 L172.8,192.9 L176.1,199.5 L179.2,201.7 L185.2,190.4 L190.1,197.1 L195.1,204.1 L201.1,192.2 L204.4,189.3 L207.9,175.2 L211.1,167.0 L214.8,168.5 L219.4,172.9 L223.9,180.7 L227.2,178.3 L230.3,180.2 L233.6,178.9 L236.3,173.4 L239.5,163.4 L243.1,161.2 L247.3,152.4 L252.2,143.3 L255.9,142.9 L261.9,148.4 L268.7,143.3 L274.7,136.0 L278.4,146.6 L285.1,152.4 L291.5,162.4 L297.9,172.1 L300.3,174.0 L304.3,168.8 L307.0,167.9 L313.4,163.4 L316.5,164.0 L322.8,173.4 L326.4,183.4 L329.2,188.0 L332.3,186.2 L335.6,189.5 L342.0,185.3 L344.7,186.7 L348.0,187.1 L351.6,189.8 L354.7,186.7 L357.9,187.1 L361.1,170.7 L363.9,157.0 L367.2,160.1 L370.3,158.2 L373.9,158.2 L377.2,157.5 L380.3,158.8 L383.6,161.9 L386.7,158.8 L389.8,157.9 L393.1,161.5 L395.8,162.8 L399.5,167.0 L405.9,171.6 L409.2,172.9 L412.3,177.4 L415.6,175.8 L419.0,175.8 L421.8,168.3 L425.4,171.6 L428.7,173.9 L431.5,173.4 L434.7,176.1 L437.9,181.6 L441.5,183.8 L444.2,184.0 L447.4,188.6 L451.0,183.8 L453.9,181.3 L457.0,176.1 L460.3,167.9 L463.3,169.0 L466.5,185.9 L469.7,195.5 L472.8,198.1 L476.1,199.4 L479.2,197.0 L482.3,197.5 L485.6,200.3 L488.9,201.6 L492.0,201.6 L495.3,202.6 L498.4,200.8 L501.6,202.1 L505.1,206.7 L508.4,206.7 L511.1,205.8 L514.4,202.5 L517.5,200.8 L520.6,201.7 L523.9,199.4 L530.3,195.2 L533.6,193.0 L536.7,187.9 L539.8,181.1 L543.1,178.0 L546.8,181.6 L549.5,181.1 L552.2,179.3 L555.9,172.9 L559.2,177.1 L562.3,181.1 L565.6,182.4 L568.7,184.2 L571.4,190.2 L575.1,208.5 L578.4,216.7 L581.5,211.6 L585.1,206.3 L587.9,207.2 L591.1,210.7 L594.8,216.7 L600.6,222.6 L603.7,229.1 L607.0,225.8 L610.1,220.7 L613.4,227.5 L616.5,229.0 L619.7,234.3 L622.8,231.0 L626.4,228.3 L629.2,235.1 L632.3,235.1 L635.6,233.2 L639.2,233.2 L644.7,233.2 L648.4,234.2 L651.6,233.2 L654.7,235.6 L661.1,235.6 L664.2,238.4 L670.3,249.3 L676.7,260.3 L680.3,268.1 L683.6,266.1 L686.7,267.6 L689.8,261.2 L693.1,262.1 L699.5,275.3 L702.8,267.6 L705.9,254.8 L709.2,245.1 L712.3,243.8 L715.6,243.3 L718.7,244.2 L721.8,234.7 L725.1,234.3 L728.2,243.8 L731.5,236.5 L734.7,237.8 L737.9,239.3 L741.5,243.8 L744.2,248.4 L747.9,248.4 L750.6,239.3 L753.7,234.2 L757.0,239.3 L760.1,239.5 L763.4,249.2 L768.0,256.1 L772.6,262.3 L776.0,262.9 L781.7,270.9 L787.4,277.8 L792.0,275.5 L794.9,275.5 L801.1,284.6 L806.8,296.1 L812.5,306.3 L816.6,306.3 L820.5,318.9 L823.9,326.2 L826.9,328.0 L830.8,322.3 L835.3,324.6 L838.3,329.2 L839.9,334.2 L843.3,322.3 L846.8,319.6 L851.3,313.2 L855.9,308.6 L862.7,297.9 L866.2,298.8 L871.4,301.8 L875.3,301.3 L879.2,312.0 L885.1,322.3 L889.0,333.0 L891.3,337.1 L895.8,325.7 L903.8,313.2 L909.5,324.1 L913.4,330.3 L919.8,318.9 L923.9,324.6 L926.7,332.6 L930.1,352.0 L932.6,366.0 L933,231.3 L13,231.3 Z" fill="url(#rg)"/>
  </g>
  <!-- baseline dotted -->
  <path d="M13.3,231.5H933" stroke="#c9ccd8" stroke-width="1.3" stroke-dasharray="0.01 5.04" stroke-linecap="round" fill="none"/>
  <!-- lines -->
  <g clip-path="url(#above)">
    <path d="M13.3,227.3 L16.4,220.9 L21.9,214.5 L25.5,195.3 L28.3,193.1 L33.7,194.4 L42.0,195.9 L45.6,202.3 L49.3,200.4 L53.8,200.4 L57.9,208.7 L63.9,196.2 L66.6,192.6 L69.9,191.1 L73.6,183.4 L79.0,185.6 L83.1,176.5 L88.9,174.3 L92.2,164.3 L95.5,159.7 L99.1,165.2 L102.2,159.7 L105.3,149.7 L109.2,152.4 L114.1,160.6 L118.1,168.5 L122.3,164.3 L126.9,163.0 L131.1,162.1 L134.2,167.0 L137.3,168.8 L140.6,174.0 L147.0,176.1 L153.4,188.9 L156.7,187.1 L159.8,193.5 L163.6,185.5 L168.2,188.6 L172.8,192.9 L176.1,199.5 L179.2,201.7 L185.2,190.4 L190.1,197.1 L195.1,204.1 L201.1,192.2 L204.4,189.3 L207.9,175.2 L211.1,167.0 L214.8,168.5 L219.4,172.9 L223.9,180.7 L227.2,178.3 L230.3,180.2 L233.6,178.9 L236.3,173.4 L239.5,163.4 L243.1,161.2 L247.3,152.4 L252.2,143.3 L255.9,142.9 L261.9,148.4 L268.7,143.3 L274.7,136.0 L278.4,146.6 L285.1,152.4 L291.5,162.4 L297.9,172.1 L300.3,174.0 L304.3,168.8 L307.0,167.9 L313.4,163.4 L316.5,164.0 L322.8,173.4 L326.4,183.4 L329.2,188.0 L332.3,186.2 L335.6,189.5 L342.0,185.3 L344.7,186.7 L348.0,187.1 L351.6,189.8 L354.7,186.7 L357.9,187.1 L361.1,170.7 L363.9,157.0 L367.2,160.1 L370.3,158.2 L373.9,158.2 L377.2,157.5 L380.3,158.8 L383.6,161.9 L386.7,158.8 L389.8,157.9 L393.1,161.5 L395.8,162.8 L399.5,167.0 L405.9,171.6 L409.2,172.9 L412.3,177.4 L415.6,175.8 L419.0,175.8 L421.8,168.3 L425.4,171.6 L428.7,173.9 L431.5,173.4 L434.7,176.1 L437.9,181.6 L441.5,183.8 L444.2,184.0 L447.4,188.6 L451.0,183.8 L453.9,181.3 L457.0,176.1 L460.3,167.9 L463.3,169.0 L466.5,185.9 L469.7,195.5 L472.8,198.1 L476.1,199.4 L479.2,197.0 L482.3,197.5 L485.6,200.3 L488.9,201.6 L492.0,201.6 L495.3,202.6 L498.4,200.8 L501.6,202.1 L505.1,206.7 L508.4,206.7 L511.1,205.8 L514.4,202.5 L517.5,200.8 L520.6,201.7 L523.9,199.4 L530.3,195.2 L533.6,193.0 L536.7,187.9 L539.8,181.1 L543.1,178.0 L546.8,181.6 L549.5,181.1 L552.2,179.3 L555.9,172.9 L559.2,177.1 L562.3,181.1 L565.6,182.4 L568.7,184.2 L571.4,190.2 L575.1,208.5 L578.4,216.7 L581.5,211.6 L585.1,206.3 L587.9,207.2 L591.1,210.7 L594.8,216.7 L600.6,222.6 L603.7,229.1 L607.0,225.8 L610.1,220.7 L613.4,227.5 L616.5,229.0 L619.7,234.3 L622.8,231.0 L626.4,228.3 L629.2,235.1 L632.3,235.1 L635.6,233.2 L639.2,233.2 L644.7,233.2 L648.4,234.2 L651.6,233.2 L654.7,235.6 L661.1,235.6 L664.2,238.4 L670.3,249.3 L676.7,260.3 L680.3,268.1 L683.6,266.1 L686.7,267.6 L689.8,261.2 L693.1,262.1 L699.5,275.3 L702.8,267.6 L705.9,254.8 L709.2,245.1 L712.3,243.8 L715.6,243.3 L718.7,244.2 L721.8,234.7 L725.1,234.3 L728.2,243.8 L731.5,236.5 L734.7,237.8 L737.9,239.3 L741.5,243.8 L744.2,248.4 L747.9,248.4 L750.6,239.3 L753.7,234.2 L757.0,239.3 L760.1,239.5 L763.4,249.2 L768.0,256.1 L772.6,262.3 L776.0,262.9 L781.7,270.9 L787.4,277.8 L792.0,275.5 L794.9,275.5 L801.1,284.6 L806.8,296.1 L812.5,306.3 L816.6,306.3 L820.5,318.9 L823.9,326.2 L826.9,328.0 L830.8,322.3 L835.3,324.6 L838.3,329.2 L839.9,334.2 L843.3,322.3 L846.8,319.6 L851.3,313.2 L855.9,308.6 L862.7,297.9 L866.2,298.8 L871.4,301.8 L875.3,301.3 L879.2,312.0 L885.1,322.3 L889.0,333.0 L891.3,337.1 L895.8,325.7 L903.8,313.2 L909.5,324.1 L913.4,330.3 L919.8,318.9 L923.9,324.6 L926.7,332.6 L930.1,352.0 L932.6,366.0" fill="none" stroke="#20cd8d" stroke-width="2.6" stroke-linejoin="round" stroke-linecap="round"/>
  </g>
  <g clip-path="url(#below)">
    <path d="M13.3,227.3 L16.4,220.9 L21.9,214.5 L25.5,195.3 L28.3,193.1 L33.7,194.4 L42.0,195.9 L45.6,202.3 L49.3,200.4 L53.8,200.4 L57.9,208.7 L63.9,196.2 L66.6,192.6 L69.9,191.1 L73.6,183.4 L79.0,185.6 L83.1,176.5 L88.9,174.3 L92.2,164.3 L95.5,159.7 L99.1,165.2 L102.2,159.7 L105.3,149.7 L109.2,152.4 L114.1,160.6 L118.1,168.5 L122.3,164.3 L126.9,163.0 L131.1,162.1 L134.2,167.0 L137.3,168.8 L140.6,174.0 L147.0,176.1 L153.4,188.9 L156.7,187.1 L159.8,193.5 L163.6,185.5 L168.2,188.6 L172.8,192.9 L176.1,199.5 L179.2,201.7 L185.2,190.4 L190.1,197.1 L195.1,204.1 L201.1,192.2 L204.4,189.3 L207.9,175.2 L211.1,167.0 L214.8,168.5 L219.4,172.9 L223.9,180.7 L227.2,178.3 L230.3,180.2 L233.6,178.9 L236.3,173.4 L239.5,163.4 L243.1,161.2 L247.3,152.4 L252.2,143.3 L255.9,142.9 L261.9,148.4 L268.7,143.3 L274.7,136.0 L278.4,146.6 L285.1,152.4 L291.5,162.4 L297.9,172.1 L300.3,174.0 L304.3,168.8 L307.0,167.9 L313.4,163.4 L316.5,164.0 L322.8,173.4 L326.4,183.4 L329.2,188.0 L332.3,186.2 L335.6,189.5 L342.0,185.3 L344.7,186.7 L348.0,187.1 L351.6,189.8 L354.7,186.7 L357.9,187.1 L361.1,170.7 L363.9,157.0 L367.2,160.1 L370.3,158.2 L373.9,158.2 L377.2,157.5 L380.3,158.8 L383.6,161.9 L386.7,158.8 L389.8,157.9 L393.1,161.5 L395.8,162.8 L399.5,167.0 L405.9,171.6 L409.2,172.9 L412.3,177.4 L415.6,175.8 L419.0,175.8 L421.8,168.3 L425.4,171.6 L428.7,173.9 L431.5,173.4 L434.7,176.1 L437.9,181.6 L441.5,183.8 L444.2,184.0 L447.4,188.6 L451.0,183.8 L453.9,181.3 L457.0,176.1 L460.3,167.9 L463.3,169.0 L466.5,185.9 L469.7,195.5 L472.8,198.1 L476.1,199.4 L479.2,197.0 L482.3,197.5 L485.6,200.3 L488.9,201.6 L492.0,201.6 L495.3,202.6 L498.4,200.8 L501.6,202.1 L505.1,206.7 L508.4,206.7 L511.1,205.8 L514.4,202.5 L517.5,200.8 L520.6,201.7 L523.9,199.4 L530.3,195.2 L533.6,193.0 L536.7,187.9 L539.8,181.1 L543.1,178.0 L546.8,181.6 L549.5,181.1 L552.2,179.3 L555.9,172.9 L559.2,177.1 L562.3,181.1 L565.6,182.4 L568.7,184.2 L571.4,190.2 L575.1,208.5 L578.4,216.7 L581.5,211.6 L585.1,206.3 L587.9,207.2 L591.1,210.7 L594.8,216.7 L600.6,222.6 L603.7,229.1 L607.0,225.8 L610.1,220.7 L613.4,227.5 L616.5,229.0 L619.7,234.3 L622.8,231.0 L626.4,228.3 L629.2,235.1 L632.3,235.1 L635.6,233.2 L639.2,233.2 L644.7,233.2 L648.4,234.2 L651.6,233.2 L654.7,235.6 L661.1,235.6 L664.2,238.4 L670.3,249.3 L676.7,260.3 L680.3,268.1 L683.6,266.1 L686.7,267.6 L689.8,261.2 L693.1,262.1 L699.5,275.3 L702.8,267.6 L705.9,254.8 L709.2,245.1 L712.3,243.8 L715.6,243.3 L718.7,244.2 L721.8,234.7 L725.1,234.3 L728.2,243.8 L731.5,236.5 L734.7,237.8 L737.9,239.3 L741.5,243.8 L744.2,248.4 L747.9,248.4 L750.6,239.3 L753.7,234.2 L757.0,239.3 L760.1,239.5 L763.4,249.2 L768.0,256.1 L772.6,262.3 L776.0,262.9 L781.7,270.9 L787.4,277.8 L792.0,275.5 L794.9,275.5 L801.1,284.6 L806.8,296.1 L812.5,306.3 L816.6,306.3 L820.5,318.9 L823.9,326.2 L826.9,328.0 L830.8,322.3 L835.3,324.6 L838.3,329.2 L839.9,334.2 L843.3,322.3 L846.8,319.6 L851.3,313.2 L855.9,308.6 L862.7,297.9 L866.2,298.8 L871.4,301.8 L875.3,301.3 L879.2,312.0 L885.1,322.3 L889.0,333.0 L891.3,337.1 L895.8,325.7 L903.8,313.2 L909.5,324.1 L913.4,330.3 L919.8,318.9 L923.9,324.6 L926.7,332.6 L930.1,352.0 L932.6,366.0" fill="none" stroke="#ea3943" stroke-width="2.6" stroke-linejoin="round" stroke-linecap="round"/>
  </g>

  <!-- price tags -->
  <rect x="15.2" y="217.5" width="65.8" height="30.5" rx="7" fill="#222531" fill-opacity="0.8"/>
  <rect x="933.1" y="350.9" width="62.1" height="30.8" rx="3" fill="#ea3943"/>
  <text x="20.10" y="238.10" font-size="14" font-weight="bold" fill="#a1a7bb" textLength="57.00" lengthAdjust="spacingAndGlyphs">0.04542</text><text x="940.20" y="371.90" font-size="14" font-weight="bold" fill="#ffffff" textLength="46.00" lengthAdjust="spacingAndGlyphs">0.0431</text>

  <!-- watermark -->
  <path d="M744.7,448.8 L751.6,437 Q752.6,435.6 752.8,437.4 L753.4,445.6 Q753.6,447.2 754.6,445.8 L760,437.6 Q761.2,436.2 761.4,438 L762,444.6 Q762.4,447.6 764.6,447.2 Q767.8,446.4 767.8,441.9 A13.5,13.5 0 1 0 763.8,451.5" fill="none" stroke="#dfe1e9" stroke-width="2.7" stroke-linecap="round" stroke-linejoin="round"/>

  <!-- history badge -->
  <path d="M13.5,552.6 Q12.7,551.7 13.5,550.8 L23.2,540.3 Q26.3,536.8 30,536.8 H47.1 A15.15,15.15 0 0 1 47.1,567.1 H30 Q26.3,567.1 23.2,563.4 Z" fill="#636a81"/>
  <g fill="none" stroke="#ffffff" stroke-width="1.7" stroke-linecap="round" stroke-linejoin="round">
    <path d="M28.3,549.3 A5.65,5.65 0 1 1 28.9,555"/>
    <path d="M33.1,547.8v3.7l2.9,1.9"/>
  </g>
  <path d="M25.3,548.0 L29.8,547.9 L27.1,552.3 Z" fill="#ffffff"/>

  <!-- analyze -->
  <path d="M874,537.2 L878.2,532.9 Q878.8,532.3 879.4,532.9 L883.7,537.2 Z" fill="#3861fb"/>
  <rect x="825.9" y="536.8" width="107.3" height="30.3" rx="15.15" fill="#3861fb"/>
  <g fill="none" stroke="#ffffff" stroke-width="1.4" stroke-linecap="round" stroke-linejoin="round">
    <path d="M838.7,553.3 L841.5,548.8 L842.2,554.2 L845.4,549.4 L846.4,553.4 Q846.9,555 848.6,554.6 Q850.3,554 850.3,551.6 A7.3,7.3 0 1 0 836.6,555.2 L835.3,559.6 L840.6,558.5 A7.3,7.3 0 0 0 848.2,556.7" stroke-width="1.6"/>
    <path d="M914.9,547.4 L919,551.8 L914.9,556.2"/>
  </g>

  <!-- navigator -->
  <path d="M13,570.5H933" stroke="#252b3a" stroke-width="1"/>
  <path d="M82.5,571V620M222.3,571V620M361.5,571V620M501.3,571V620M640.2,571V620M780.2,571V620M920.2,571V620" stroke="#252b3a" stroke-width="1"/>
  <path d="M933,571V620" stroke="#252b3a" stroke-width="1"/>
  <path d="M13.0,619.5 L100.0,619.6 L200.0,619.7 L219.8,619.0 L237.5,618.8 L241.9,616.8 L246.4,616.8 L248.0,612.4 L249.4,588.7 L251.0,575.3 L253.4,581.8 L257.3,583.8 L261.7,587.7 L263.8,582.8 L266.8,593.1 L269.6,584.2 L274.7,589.7 L276.1,599.6 L277.7,605.5 L280.0,602.2 L283.0,602.0 L287.0,600.6 L290.9,604.1 L296.4,602.5 L299.4,604.1 L305.7,601.6 L309.3,595.2 L314.6,594.6 L317.6,591.3 L320.9,597.6 L325.5,602.5 L330.4,599.6 L336.0,598.6 L340.3,588.7 L344.3,582.4 L347.2,589.7 L350.2,590.7 L353.2,599.0 L356.1,600.6 L358.1,602.2 L361.1,597.6 L363.6,599.0 L366.0,602.2 L368.6,602.5 L371.5,607.9 L373.9,607.5 L376.5,604.5 L379.8,606.9 L384.8,609.1 L387.4,606.5 L391.7,606.5 L393.5,606.3 L396.9,601.0 L400.9,604.5 L405.8,606.1 L410.8,609.5 L413.7,612.0 L421.6,612.0 L425.6,614.0 L433.5,613.0 L441.4,612.8 L447.3,608.9 L453.2,605.9 L459.2,605.9 L464.1,602.9 L467.7,605.9 L470.0,605.9 L473.0,608.1 L476.4,607.5 L480.3,601.6 L483.9,606.5 L490.8,608.9 L496.7,612.4 L502.6,613.4 L507.6,611.0 L514.5,610.8 L520.4,610.8 L528.3,612.8 L536.2,612.4 L541.8,611.0 L546.1,612.0 L550.1,612.0 L556.0,613.4 L560.9,613.8 L563.9,616.0 L567.9,615.4 L577.7,615.0 L589.9,616.4 L601.7,617.0 L611.6,616.8 L619.5,615.0 L631.4,614.4 L643.2,614.4 L649.2,613.0 L658.1,612.4 L665.0,609.9 L670.9,610.8 L677.8,610.5 L681.2,613.0 L687.7,612.4 L694.6,612.0 L700.0,610.5 L703.5,612.4 L708.5,615.8 L714.4,616.4 L719.3,615.4 L726.2,617.0 L732.2,616.4 L738.1,617.0 L744.0,616.8 L750.0,615.4 L757.9,617.0 L764.8,615.4 L771.7,611.4 L775.7,613.8 L777.9,614.0 L783.8,614.4 L795.7,616.8 L809.5,618.0 L827.3,618.4 L831.3,617.4 L849.0,618.4 L857.0,617.4 L868.8,617.8 L888.6,618.0 L898.5,618.8 L912.3,618.4 L922.2,617.4 L927.1,616.4 L932.5,617.8 L933,620.3 L13,620.3 Z" fill="#222b4c"/>
  <path d="M13.0,619.5 L100.0,619.6 L200.0,619.7 L219.8,619.0 L237.5,618.8 L241.9,616.8 L246.4,616.8 L248.0,612.4 L249.4,588.7 L251.0,575.3 L253.4,581.8 L257.3,583.8 L261.7,587.7 L263.8,582.8 L266.8,593.1 L269.6,584.2 L274.7,589.7 L276.1,599.6 L277.7,605.5 L280.0,602.2 L283.0,602.0 L287.0,600.6 L290.9,604.1 L296.4,602.5 L299.4,604.1 L305.7,601.6 L309.3,595.2 L314.6,594.6 L317.6,591.3 L320.9,597.6 L325.5,602.5 L330.4,599.6 L336.0,598.6 L340.3,588.7 L344.3,582.4 L347.2,589.7 L350.2,590.7 L353.2,599.0 L356.1,600.6 L358.1,602.2 L361.1,597.6 L363.6,599.0 L366.0,602.2 L368.6,602.5 L371.5,607.9 L373.9,607.5 L376.5,604.5 L379.8,606.9 L384.8,609.1 L387.4,606.5 L391.7,606.5 L393.5,606.3 L396.9,601.0 L400.9,604.5 L405.8,606.1 L410.8,609.5 L413.7,612.0 L421.6,612.0 L425.6,614.0 L433.5,613.0 L441.4,612.8 L447.3,608.9 L453.2,605.9 L459.2,605.9 L464.1,602.9 L467.7,605.9 L470.0,605.9 L473.0,608.1 L476.4,607.5 L480.3,601.6 L483.9,606.5 L490.8,608.9 L496.7,612.4 L502.6,613.4 L507.6,611.0 L514.5,610.8 L520.4,610.8 L528.3,612.8 L536.2,612.4 L541.8,611.0 L546.1,612.0 L550.1,612.0 L556.0,613.4 L560.9,613.8 L563.9,616.0 L567.9,615.4 L577.7,615.0 L589.9,616.4 L601.7,617.0 L611.6,616.8 L619.5,615.0 L631.4,614.4 L643.2,614.4 L649.2,613.0 L658.1,612.4 L665.0,609.9 L670.9,610.8 L677.8,610.5 L681.2,613.0 L687.7,612.4 L694.6,612.0 L700.0,610.5 L703.5,612.4 L708.5,615.8 L714.4,616.4 L719.3,615.4 L726.2,617.0 L732.2,616.4 L738.1,617.0 L744.0,616.8 L750.0,615.4 L757.9,617.0 L764.8,615.4 L771.7,611.4 L775.7,613.8 L777.9,614.0 L783.8,614.4 L795.7,616.8 L809.5,618.0 L827.3,618.4 L831.3,617.4 L849.0,618.4 L857.0,617.4 L868.8,617.8 L888.6,618.0 L898.5,618.8 L912.3,618.4 L922.2,617.4 L927.1,616.4 L932.5,617.8" fill="none" stroke="#5680f3" stroke-width="1.3" stroke-linejoin="round"/>
  <rect x="923.8" y="582.4" width="16.6" height="24.7" rx="8.3" fill="#1e2230"/>
  <path d="M929.8,590.1V599M933.2,590.1V599" stroke="#a1a7bb" stroke-width="1.3"/>

  <!-- all other text -->
  <text x="25.95" y="35.60" font-size="15" font-weight="bold" fill="#ffffff" textLength="38.60" lengthAdjust="spacingAndGlyphs">Price</text><text x="85.95" y="35.60" font-size="15" font-weight="bold" fill="#a1a7bb" textLength="61.85" lengthAdjust="spacingAndGlyphs">Mkt Cap</text><text x="256.00" y="35.60" font-size="15" font-weight="bold" fill="#a1a7bb" textLength="89.50" lengthAdjust="spacingAndGlyphs">TradingView</text><text x="571.80" y="36.30" font-size="15.6" font-weight="normal" fill="#646d88" textLength="65.65" lengthAdjust="spacingAndGlyphs" stroke="#646d88" stroke-width="0.35">Compare</text><text x="695.75" y="35.60" font-size="15" font-weight="bold" fill="#ffffff" textLength="29.00" lengthAdjust="spacingAndGlyphs">24h</text><text x="747.00" y="35.60" font-size="15" font-weight="bold" fill="#a1a7bb" textLength="22.25" lengthAdjust="spacingAndGlyphs">1W</text><text x="790.70" y="35.60" font-size="15" font-weight="bold" fill="#a1a7bb" textLength="22.10" lengthAdjust="spacingAndGlyphs">1M</text><text x="834.75" y="35.60" font-size="15" font-weight="bold" fill="#a1a7bb" textLength="17.75" lengthAdjust="spacingAndGlyphs">1Y</text><text x="875.45" y="35.60" font-size="15" font-weight="bold" fill="#a1a7bb" textLength="18.10" lengthAdjust="spacingAndGlyphs">All</text><text x="918.20" y="35.60" font-size="15" font-weight="bold" fill="#a1a7bb" textLength="27.85" lengthAdjust="spacingAndGlyphs">Log</text><text x="948.60" y="501.60" font-size="14" font-weight="bold" fill="#a1a7bb" textLength="31.90" lengthAdjust="spacingAndGlyphs">USD</text><text x="13.90" y="527.30" font-size="14" font-weight="normal" fill="#8790a6" textLength="54.50" lengthAdjust="spacingAndGlyphs" stroke="#8790a6" stroke-width="0.22">3:00 PM</text><text x="100.60" y="527.30" font-size="14" font-weight="normal" fill="#8790a6" textLength="54.80" lengthAdjust="spacingAndGlyphs" stroke="#8790a6" stroke-width="0.22">6:00 PM</text><text x="215.80" y="527.30" font-size="14" font-weight="normal" fill="#8790a6" textLength="54.20" lengthAdjust="spacingAndGlyphs" stroke="#8790a6" stroke-width="0.22">9:00 PM</text><text x="339.90" y="527.30" font-size="14" font-weight="normal" fill="#8790a6" textLength="36.70" lengthAdjust="spacingAndGlyphs" stroke="#8790a6" stroke-width="0.22">3 Feb</text><text x="445.70" y="527.30" font-size="14" font-weight="normal" fill="#8790a6" textLength="54.90" lengthAdjust="spacingAndGlyphs" stroke="#8790a6" stroke-width="0.22">3:00 AM</text><text x="560.60" y="527.30" font-size="14" font-weight="normal" fill="#8790a6" textLength="54.90" lengthAdjust="spacingAndGlyphs" stroke="#8790a6" stroke-width="0.22">6:00 AM</text><text x="675.90" y="527.30" font-size="14" font-weight="normal" fill="#8790a6" textLength="54.50" lengthAdjust="spacingAndGlyphs" stroke="#8790a6" stroke-width="0.22">9:00 AM</text><text x="787.80" y="527.30" font-size="14" font-weight="normal" fill="#8790a6" textLength="59.90" lengthAdjust="spacingAndGlyphs" stroke="#8790a6" stroke-width="0.22">12:00 PM</text><text x="906.10" y="527.30" font-size="14" font-weight="normal" fill="#8790a6" textLength="53.60" lengthAdjust="spacingAndGlyphs" stroke="#8790a6" stroke-width="0.22">3:00 PM</text><text x="67.00" y="640.20" font-size="14" font-weight="normal" fill="#8790a6" textLength="33.20" lengthAdjust="spacingAndGlyphs" stroke="#8790a6" stroke-width="0.22">2020</text><text x="208.00" y="640.20" font-size="14" font-weight="normal" fill="#8790a6" textLength="31.80" lengthAdjust="spacingAndGlyphs" stroke="#8790a6" stroke-width="0.22">2021</text><text x="346.90" y="640.20" font-size="14" font-weight="normal" fill="#8790a6" textLength="32.30" lengthAdjust="spacingAndGlyphs" stroke="#8790a6" stroke-width="0.22">2022</text><text x="485.50" y="640.20" font-size="14" font-weight="normal" fill="#8790a6" textLength="33.30" lengthAdjust="spacingAndGlyphs" stroke="#8790a6" stroke-width="0.22">2023</text><text x="624.80" y="640.20" font-size="14" font-weight="normal" fill="#8790a6" textLength="33.20" lengthAdjust="spacingAndGlyphs" stroke="#8790a6" stroke-width="0.22">2024</text><text x="764.50" y="640.20" font-size="14" font-weight="normal" fill="#8790a6" textLength="33.10" lengthAdjust="spacingAndGlyphs" stroke="#8790a6" stroke-width="0.22">2025</text><text x="904.10" y="640.20" font-size="14" font-weight="normal" fill="#8790a6" textLength="33.20" lengthAdjust="spacingAndGlyphs" stroke="#8790a6" stroke-width="0.22">2026</text><text x="777.80" y="449.00" font-size="18.3" font-weight="normal" fill="#dfe1e9" textLength="137.20" lengthAdjust="spacingAndGlyphs" stroke="#dfe1e9" stroke-width="0.55">CoinMarketCap</text><text x="855.80" y="556.90" font-size="14" font-weight="bold" fill="#ffffff" textLength="52.20" lengthAdjust="spacingAndGlyphs">Analyze</text><text x="45.60" y="556.80" font-size="14" font-weight="bold" fill="#ffffff" textLength="9.10" lengthAdjust="spacingAndGlyphs">6</text>
</svg>
</body></html>
